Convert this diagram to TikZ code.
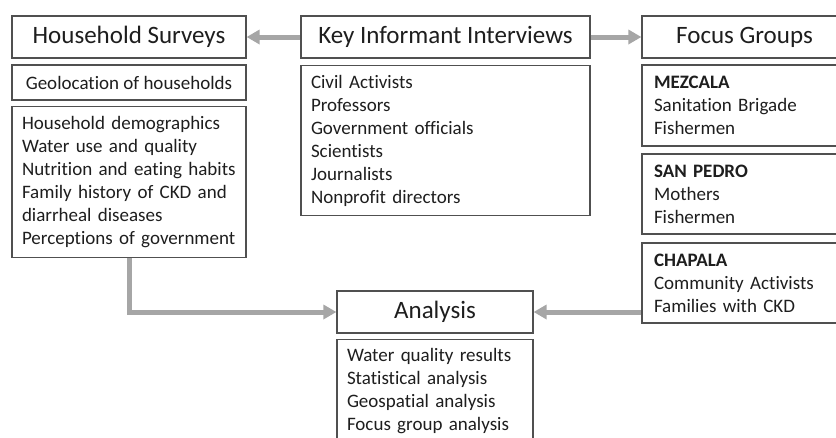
\documentclass[tikz,border=0pt]{standalone}
\usepackage{fontspec}
\setmainfont{Carlito}[Ligatures=NoCommon]
\usetikzlibrary{arrows.meta}
\definecolor{boxline}{HTML}{505050}
\definecolor{arrowgray}{HTML}{A6A6A6}
\definecolor{txt}{HTML}{1E1E1E}
\tikzset{
  box/.style={draw=boxline, line width=1.2pt, inner sep=0pt, fill=white, text=txt},
  titlebox/.style={box, minimum height=42pt, font=\fontsize{25}{30}\selectfont, align=center},
  listbox/.style={box, align=left, font=\fontsize{19}{23}\selectfont},
  arr/.style={draw=arrowgray, line width=5pt, -{Triangle[length=13pt,width=14pt]}}
}
\begin{document}
\begin{tikzpicture}[x=1pt,y=-1pt]
\clip (0,0) rectangle (836,437);
\useasboundingbox (0,0) rectangle (836,437);
\fill[white] (0,0) rectangle (836,437);
% Household Surveys column
\node[titlebox, minimum width=234pt] (hs) at (129,37) {Household Surveys};
\node[box, minimum width=234pt, minimum height=35pt, font=\fontsize{19}{23}\selectfont] (geo) at (129,82.5) {Geolocation of households};
\node[listbox, minimum width=234pt, minimum height=151pt, text width=214pt] (hsd) at (129,182) {Household demographics\\Water use and quality\\Nutrition and eating habits\\Family history of CKD and\\diarrheal diseases\\Perceptions of government};
% Key Informant Interviews column
\node[titlebox, minimum width=289pt] (ki) at (445.5,37) {Key Informant Interviews};
\node[listbox, minimum width=289pt, minimum height=150pt, text width=269pt] (kid) at (445.5,140.5) {Civil Activists\\Professors\\Government officials\\Scientists\\Journalists\\Nonprofit directors};
% Focus Groups column
\node[titlebox, minimum width=205pt] (fg) at (744.5,37) {Focus Groups};
\node[listbox, minimum width=205pt, minimum height=81pt, text width=181pt] (mez) at (744.5,105.5) {\textbf{MEZCALA}\\Sanitation Brigade\\Fishermen};
\node[listbox, minimum width=205pt, minimum height=80pt, text width=181pt] (sp) at (744.5,194) {\textbf{SAN PEDRO}\\Mothers\\Fishermen};
\node[listbox, minimum width=205pt, minimum height=80pt, text width=181pt] (cha) at (744.5,283) {\textbf{CHAPALA}\\Community Activists\\Families with CKD};
% Analysis
\node[titlebox, minimum width=196pt] (an) at (435,312) {Analysis};
\node[listbox, minimum width=196pt, minimum height=103pt, text width=176pt] (and) at (435,391) {Water quality results\\Statistical analysis\\Geospatial analysis\\Focus group analysis};
% Connectors
\draw[arr] (ki.west) -- (hs.east);
\draw[arr] (ki.east) -- (fg.west);
\draw[arr] (hsd.south) |- (an.west);
\draw[arr] (cha.west |- an.east) -- (an.east);
\end{tikzpicture}
\end{document}
